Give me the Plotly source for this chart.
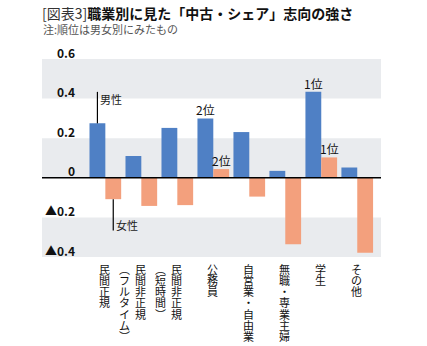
import plotly.graph_objects as go

# 職業カテゴリ(縦書きラベルは右の列→左の列の順)
categories = [
    ["民間正規"],
    ["民間非正規", "︵フルタイム︶"],
    ["民間非正規", "︵短時間︶"],
    ["公務員"],
    ["自営業・自由業"],
    ["無職・専業主婦"],
    ["学生"],
    ["その他"],
]
male = [0.275, 0.11, 0.252, 0.30, 0.231, 0.035, 0.435, 0.052]
female = [-0.108, -0.142, -0.138, 0.044, -0.095, -0.336, 0.103, -0.378]
male_rank = ["", "", "", "2位", "", "", "1位", ""]
female_rank = ["", "", "", "2位", "", "", "1位", ""]
tick_vals = [-0.4, -0.2, 0, 0.2, 0.4, 0.6]
tick_text = ["▲0.4", "▲0.2", "0", "0.2", "0.4", "0.6"]

W, H = 427, 346
FONT = "Noto Sans CJK JP"
BLUE = "#4f80c5"
ORANGE = "#f3a07d"
BAND = "#e9ebee"

x_dom = [42 / W, 381 / W]
y_dom = [1 - 257 / H, 1 - 59 / H]
x_rng = [-1.76, 7.66]
off = 0.22  # 系列ごとのバー中心のずれ

xs = list(range(len(categories)))

fig = go.Figure()
fig.add_trace(go.Bar(x=xs, y=male, name="男性", marker_color=BLUE,
                     marker_line_width=0))
fig.add_trace(go.Bar(x=xs, y=female, name="女性", marker_color=ORANGE,
                     marker_line_width=0))

shapes = []
# 背景の横縞
for lo, hi in [(0.4, 0.6), (0.0, 0.2), (-0.4, -0.2)]:
    shapes.append(dict(type="rect", xref="paper", yref="y", x0=x_dom[0], x1=x_dom[1],
                       y0=lo, y1=hi, fillcolor=BAND, line_width=0, layer="below"))
# ゼロ線
shapes.append(dict(type="line", xref="paper", yref="y", x0=x_dom[0], x1=x_dom[1],
                   y0=0, y1=0, line=dict(color="black", width=1.5), layer="above"))
# 凡例の引き出し線
shapes.append(dict(type="line", xref="x", yref="y", x0=-off, x1=-off,
                   y0=male[0], y1=0.434, line=dict(color="black", width=1.2)))
shapes.append(dict(type="line", xref="x", yref="y", x0=off, x1=off,
                   y0=female[0], y1=-0.266, line=dict(color="black", width=1.2)))

ann = []
# タイトルと注記
ann.append(dict(xref="paper", yref="paper", x=40 / W, y=1 - 13 / H,
                xanchor="left", yanchor="middle", showarrow=False,
                text="<span style='color:#333'>[図表3]</span><b>職業別に見た「中古・シェア」志向の強さ</b>",
                font=dict(family=FONT, size=14, color="#111")))
ann.append(dict(xref="paper", yref="paper", x=41 / W, y=1 - 29 / H,
                xanchor="left", yanchor="middle", showarrow=False,
                text="注:順位は男女別にみたもの",
                font=dict(family=FONT, size=11, color="#555")))
# 目盛ラベル
for v, t in zip(tick_vals, tick_text):
    ann.append(dict(xref="paper", yref="y", x=77 / W, y=v, yshift=7,
                    xanchor="right", yanchor="middle", showarrow=False,
                    text=f"<b>{t}</b>", font=dict(family=FONT, size=12, color="#111")))
# 凡例ラベル
ann.append(dict(xref="x", yref="y", x=-off, y=0.40, xshift=1, xanchor="left",
                yanchor="middle", showarrow=False, text="男性",
                font=dict(family=FONT, size=11, color="#222")))
ann.append(dict(xref="x", yref="y", x=off, y=-0.237, xshift=1, xanchor="left",
                yanchor="middle", showarrow=False, text="女性",
                font=dict(family=FONT, size=11, color="#222")))
# 順位ラベル
for i, (r, v) in enumerate(zip(male_rank, male)):
    if r:
        ann.append(dict(xref="x", yref="y", x=i - off, y=v, xanchor="center",
                        yanchor="bottom", yshift=-2, showarrow=False, text=r,
                        font=dict(family=FONT, size=12, color="#111")))
for i, (r, v) in enumerate(zip(female_rank, female)):
    if r:
        ann.append(dict(xref="x", yref="y", x=i + off, y=v, xanchor="center",
                        yanchor="bottom", yshift=-2, showarrow=False, text=r,
                        font=dict(family=FONT, size=12, color="#111")))
# 縦書きのカテゴリラベル(1文字ずつ配置)
step = 11.3
top_px = 268.5
for i, cols in enumerate(categories):
    for c, col in enumerate(cols):
        for k, ch in enumerate(col):
            ann.append(dict(xref="x", yref="paper", x=i, xshift=-1 - 16 * c,
                            y=1 - top_px / H, yshift=-k * step,
                            xanchor="center", yanchor="middle", showarrow=False,
                            text=ch, font=dict(family=FONT, size=11, color="#111")))

fig.update_layout(
    width=W, height=H,
    margin=dict(l=0, r=0, t=0, b=0),
    paper_bgcolor="white", plot_bgcolor="rgba(0,0,0,0)",
    barmode="group", bargap=0.12, bargroupgap=0,
    showlegend=False,
    xaxis=dict(domain=x_dom, range=x_rng, visible=False, fixedrange=True),
    yaxis=dict(domain=y_dom, range=[-0.4, 0.6], visible=False, fixedrange=True),
    shapes=shapes, annotations=ann,
)

fig.write_html("out.html")
